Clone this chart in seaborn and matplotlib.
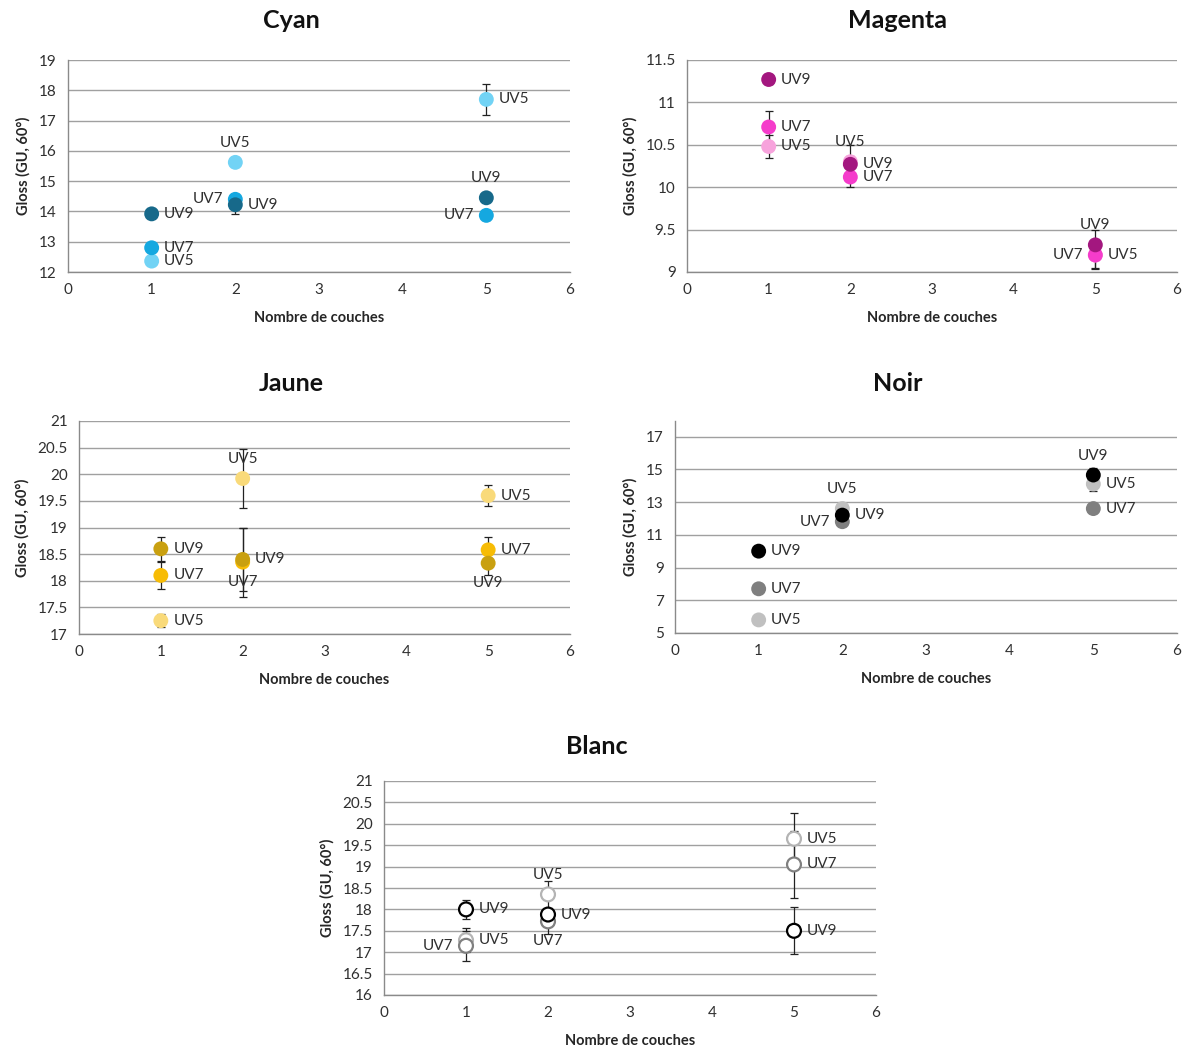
import numpy as np
import pandas as pd
import matplotlib
matplotlib.use("Agg")
import matplotlib.pyplot as plt
import seaborn as sns
from matplotlib.ticker import FuncFormatter

# ==========================================================
# Data
# ==========================================================

COUCHES = [1, 1, 1, 2, 2, 2, 5, 5, 5]
UV_ORDER = ["UV9", "UV7", "UV5"]

cyan_uv = ["UV9", "UV7", "UV5", "UV5", "UV7", "UV9", "UV5", "UV9", "UV7"]
cyan_gloss = [13.92, 12.80, 12.36, 15.62, 14.40, 14.22, 17.70, 14.45, 13.87]
cyan_err = [0.08, 0.05, 0.05, 0.12, 0.10, 0.32, 0.50, 0.05, 0.15]
cyan_pos = ["r", "r", "r", "t", "l", "r", "r", "t", "l"]

magenta_uv = ["UV9", "UV7", "UV5", "UV5", "UV9", "UV7", "UV9", "UV7", "UV5"]
magenta_gloss = [11.27, 10.71, 10.48, 10.30, 10.27, 10.12, 9.32, 9.20, 9.20]
magenta_err = [0.05, 0.19, 0.14, 0.20, 0.10, 0.12, 0.17, 0.17, 0.15]
magenta_pos = ["r", "r", "r", "t", "r", "r", "t", "l", "r"]

jaune_uv = ["UV9", "UV7", "UV5", "UV5", "UV9", "UV7", "UV5", "UV7", "UV9"]
jaune_gloss = [18.60, 18.10, 17.25, 19.92, 18.40, 18.35, 19.60, 18.58, 18.33]
jaune_err = [0.23, 0.25, 0.12, 0.55, 0.60, 0.65, 0.20, 0.25, 0.22]
jaune_pos = ["r", "r", "r", "t", "r", "b", "r", "r", "b"]

noir_uv = ["UV9", "UV7", "UV5", "UV5", "UV9", "UV7", "UV9", "UV5", "UV7"]
noir_gloss = [10.0, 7.7, 5.8, 12.6, 12.2, 11.8, 14.65, 14.1, 12.6]
noir_err = [0.0, 0.0, 0.0, 0.25, 0.15, 0.25, 0.45, 0.40, 0.0]
noir_pos = ["r", "r", "r", "t", "r", "l", "t", "r", "r"]

blanc_uv = ["UV9", "UV5", "UV7", "UV5", "UV9", "UV7", "UV5", "UV7", "UV9"]
blanc_gloss = [18.00, 17.28, 17.15, 18.35, 17.88, 17.72, 19.65, 19.05, 17.50]
blanc_err = [0.22, 0.28, 0.35, 0.32, 0.10, 0.30, 0.60, 0.78, 0.55]
blanc_pos = ["r", "r", "l", "t", "r", "b", "r", "r", "r"]

PALETTES = {
    "Cyan": {"UV9": "#17698a", "UV7": "#15a8e0", "UV5": "#72d3f5"},
    "Magenta": {"UV9": "#a3177f", "UV7": "#f53ccb", "UV5": "#f7a3dc"},
    "Jaune": {"UV9": "#c9a010", "UV7": "#f7bc05", "UV5": "#f9da7a"},
    "Noir": {"UV9": "#000000", "UV7": "#7f7f7f", "UV5": "#c0c0c0"},
    "Blanc": {"UV9": "#000000", "UV7": "#808080", "UV5": "#b4b4b4"},
}

FONT = ["Lato", "DejaVu Sans"]
W, H = 1188, 1048

# ==========================================================
# Function Name : DrawPanel
# Description   : Draws one gloss scatter panel with error bars.
# ==========================================================

def DrawPanel(fig, box, title_xy, title, uv, gloss, err, pos, ylim, yticks, ytop=None, hollow=False):

    left, right, top, bottom = box
    ax = fig.add_axes([left / W, 1 - bottom / H, (right - left) / W, (bottom - top) / H])

    df = pd.DataFrame({"couches": COUCHES, "uv": uv, "gloss": gloss, "err": err, "pos": pos})

    for y in yticks:
        ax.axhline(y, color="#a0a0a0", lw=1, zorder=0)

    e = df[df["err"] > 0]
    ax.errorbar(
        e["couches"], e["gloss"], yerr=e["err"], fmt="none",
        ecolor="#222222", elinewidth=0.9, capsize=3, capthick=0.9, zorder=2
    )

    # UV5 drawn first, UV9 last (on top), as in the source chart
    rank = {u: i for i, u in enumerate(UV_ORDER[::-1])}
    df_plot = df.assign(r=df["uv"].map(rank)).sort_values("r", kind="stable")

    sns.scatterplot(
        data=df_plot, x="couches", y="gloss", hue="uv", palette=PALETTES[title],
        hue_order=UV_ORDER, s=115, linewidth=0, legend=False, ax=ax, zorder=3
    )

    if hollow:
        coll = ax.collections[-1]
        coll.set_edgecolors(coll.get_facecolors())
        coll.set_facecolors("white")
        coll.set_linewidths(1.6)
        coll.set_sizes([100])

    offsets = {"r": (9, 0, "left", "center"), "l": (-9, 0, "right", "center"),
               "t": (0, 9, "center", "bottom"), "b": (0, -9, "center", "top")}
    for _, row in df.iterrows():
        dx, dy, ha, va = offsets[row["pos"]]
        ax.annotate(row["uv"], (row["couches"], row["gloss"]), xytext=(dx, dy),
                    textcoords="offset points", ha=ha, va=va, fontsize=11,
                    color="#303030", family=FONT, zorder=4)

    ax.set_xlim(0, 6)
    ax.set_xticks(range(0, 7))
    ax.set_ylim(ylim[0], ytop if ytop else ylim[1])
    ax.set_yticks(yticks)
    ax.yaxis.set_major_formatter(FuncFormatter(lambda v, p: "%g" % v))

    for side in ["top", "right"]:
        ax.spines[side].set_visible(False)
    for side in ["left", "bottom"]:
        ax.spines[side].set_color("#8a8a8a")
        ax.spines[side].set_linewidth(1)

    ax.tick_params(axis="both", direction="out", length=4, width=1, color="#8a8a8a",
                   labelsize=11, labelcolor="#303030", pad=4)
    for lab in ax.get_xticklabels() + ax.get_yticklabels():
        lab.set_family(FONT)

    ax.set_xlabel("Nombre de couches", fontsize=10.5, fontweight="bold", family=FONT, labelpad=10)
    ax.set_ylabel("Gloss (GU, 60°)", fontsize=10.5, fontweight="bold", family=FONT, labelpad=6)
    ax.set_facecolor("white")

    fig.text(title_xy[0] / W, 1 - title_xy[1] / H, title, fontsize=18, fontweight="bold",
             family=FONT, ha="center", va="center", color="#111111")

    return ax


# ==========================================================
# Function Name : main
# ==========================================================

def main():

    sns.set_style("white")
    plt.rcParams["font.family"] = FONT

    fig = plt.figure(figsize=(W / 100, H / 100), dpi=100)
    fig.patch.set_facecolor("white")

    DrawPanel(fig, (68, 570, 60, 272), (291, 21), "Cyan", cyan_uv, cyan_gloss, cyan_err,
              cyan_pos, (12, 19), np.arange(12, 19.5, 1))
    DrawPanel(fig, (687, 1177, 60, 272), (898, 21), "Magenta", magenta_uv, magenta_gloss,
              magenta_err, magenta_pos, (9, 11.5), np.arange(9, 11.75, 0.5))
    DrawPanel(fig, (79, 570, 421, 634), (291, 384), "Jaune", jaune_uv, jaune_gloss, jaune_err,
              jaune_pos, (17, 21), np.arange(17, 21.25, 0.5))
    DrawPanel(fig, (675, 1177, 421, 633), (898, 384), "Noir", noir_uv, noir_gloss, noir_err,
              noir_pos, (5, 17), np.arange(5, 17.5, 2), ytop=17.95)
    DrawPanel(fig, (384, 876, 781, 995), (597, 746), "Blanc", blanc_uv, blanc_gloss, blanc_err,
              blanc_pos, (16, 21), np.arange(16, 21.25, 0.5), hollow=True)

    fig.savefig("out.png", dpi=100, facecolor="white")
    plt.close(fig)


if __name__ == "__main__":
    main()
